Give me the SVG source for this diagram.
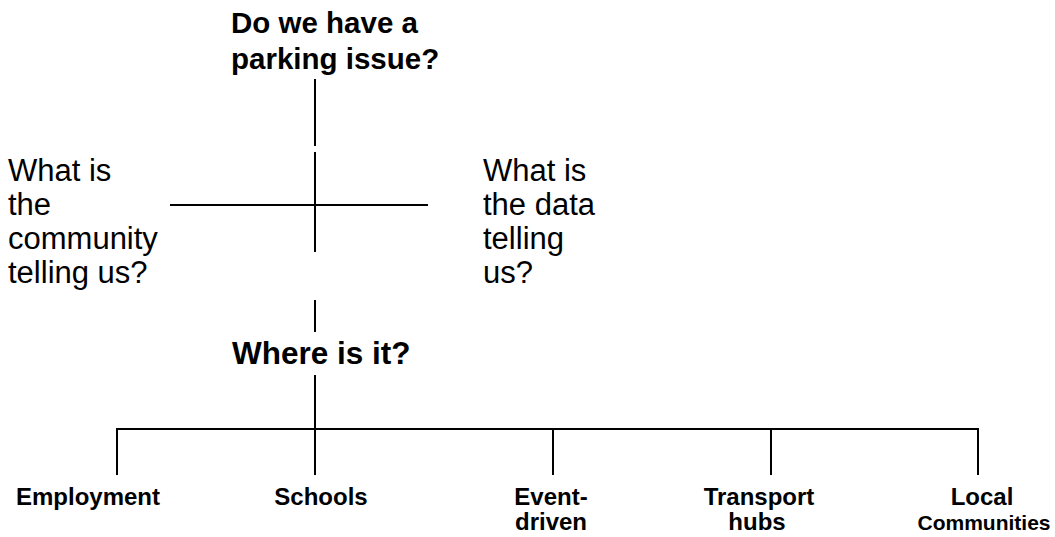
<svg xmlns="http://www.w3.org/2000/svg" width="1055" height="537" viewBox="0 0 1055 537">
  <style>
    .ln { stroke: #000; stroke-width: 2; fill: none; }
    .q { font-family: "Liberation Sans", Arial, sans-serif; font-size: 31px; fill: #000; }
    .qb { font-family: "Liberation Sans", Arial, sans-serif; font-size: 29.5px; font-weight: bold; fill: #000; }
    .leaf { font-family: "Liberation Sans", Arial, sans-serif; font-size: 24px; font-weight: bold; fill: #000; text-anchor: middle; }
  </style>
  <rect width="1055" height="537" fill="#fff"/>

  <g id="connectors">
    <line class="ln" x1="315" y1="79" x2="315" y2="146"/>
    <line class="ln" x1="315" y1="152" x2="315" y2="252"/>
    <line class="ln" x1="170" y1="205" x2="428" y2="205"/>
    <line class="ln" x1="315" y1="300" x2="315" y2="332"/>
    <line class="ln" x1="315" y1="375" x2="315" y2="429"/>
    <polyline class="ln" points="117,475 117,429 978,429 978,475"/>
    <line class="ln" x1="315" y1="429" x2="315" y2="475"/>
    <line class="ln" x1="553" y1="429" x2="553" y2="475"/>
    <line class="ln" x1="771" y1="429" x2="771" y2="475"/>
  </g>

  <g id="issue">
    <text class="qb" x="231" y="33">Do we have a</text>
    <text class="qb" x="231" y="69">parking issue?</text>
  </g>

  <g id="community">
    <text class="q" x="8" y="181">What is</text>
    <text class="q" x="8" y="215">the</text>
    <text class="q" x="8" y="249">community</text>
    <text class="q" x="8" y="283">telling us?</text>
  </g>

  <g id="data">
    <text class="q" x="483" y="181">What is</text>
    <text class="q" x="483" y="215">the data</text>
    <text class="q" x="483" y="249">telling</text>
    <text class="q" x="483" y="283">us?</text>
  </g>

  <g id="where">
    <text class="qb" x="232" y="364" style="font-size:31.5px">Where is it?</text>
  </g>

  <g id="employment">
    <text class="leaf" x="88" y="505">Employment</text>
  </g>
  <g id="schools">
    <text class="leaf" x="321" y="505">Schools</text>
  </g>
  <g id="event-driven">
    <text class="leaf" x="551" y="505">Event-</text>
    <text class="leaf" x="551" y="530">driven</text>
  </g>
  <g id="transport-hubs">
    <text class="leaf" x="759" y="505">Transport</text>
    <text class="leaf" x="757" y="530">hubs</text>
  </g>
  <g id="local-communities">
    <text class="leaf" x="982" y="505">Local</text>
    <text class="leaf" x="984" y="530" style="font-size:21px">Communities</text>
  </g>
</svg>
